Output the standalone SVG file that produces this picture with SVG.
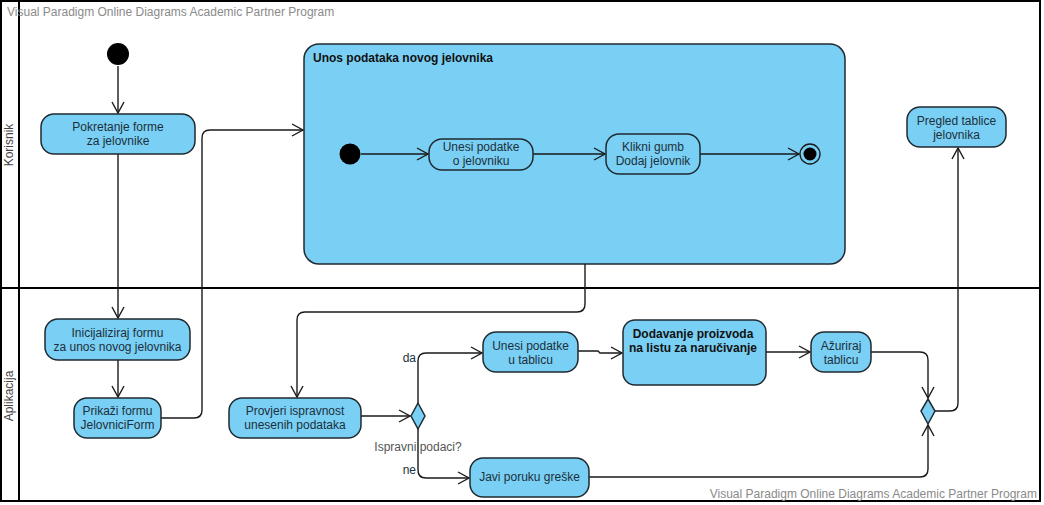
<svg xmlns="http://www.w3.org/2000/svg" width="1044" height="505" viewBox="0 0 1044 505">
<style>
text{font-family:"Liberation Sans",Arial,sans-serif;font-size:12px;fill:#1c2f3b}
.node{fill:#7acff4;stroke:#1f2a30;stroke-width:1.5}
.c{text-anchor:middle}
.b{font-weight:bold;fill:#111}
.wm{fill:#8a8a8a}
.lane{fill:#444}
.edge{fill:none;stroke:#1a1a1a;stroke-width:1.4}
.frame{fill:none;stroke:#000;stroke-width:2}
</style>
<defs>
<marker id="arr" markerUnits="userSpaceOnUse" markerWidth="14" markerHeight="14" viewBox="0 0 12 14" refX="11" refY="7" orient="auto">
<path d="M0,1 L11,7 L0,13" fill="none" stroke="#1a1a1a" stroke-width="1.4"/>
</marker>
</defs>
<rect width="1044" height="505" fill="#fff"/>
<g id="swimlanes">
<rect class="frame" x="1" y="1" width="1039" height="500"/>
<line class="frame" x1="19" y1="1" x2="19" y2="501"/>
<line class="frame" x1="1" y1="288" x2="1040" y2="288"/>
<text class="lane c" transform="translate(13,145) rotate(-90)">Korisnik</text>
<text class="lane c" transform="translate(13,396) rotate(-90)">Aplikacija</text>
</g>
<g id="watermarks">
<text class="wm" x="7" y="16">Visual Paradigm Online Diagrams Academic Partner Program</text>
<text class="wm" x="1037" y="498" text-anchor="end">Visual Paradigm Online Diagrams Academic Partner Program</text>
</g>
<g id="composite">
<rect class="node" x="304" y="44" width="541" height="220" rx="15"/>
<text class="b" x="313" y="62">Unos podataka novog jelovnika</text>
</g>
<g id="connectors">
<path class="edge" d="M118,66 V113" marker-end="url(#arr)"/>
<path class="edge" d="M118,154 V318" marker-end="url(#arr)"/>
<path class="edge" d="M118,360 V397" marker-end="url(#arr)"/>
<path class="edge" d="M161,418 H194 Q202,418 202,410 V138 Q202,130 210,130 H303" marker-end="url(#arr)"/>
<path class="edge" d="M361,154 H428" marker-end="url(#arr)"/>
<path class="edge" d="M533,154 H605" marker-end="url(#arr)"/>
<path class="edge" d="M700,154 H799" marker-end="url(#arr)"/>
<path class="edge" d="M585,264 V304 Q585,312 577,312 H305 Q297,312 297,320 V397" marker-end="url(#arr)"/>
<path class="edge" d="M361,416 H410" marker-end="url(#arr)"/>
<path class="edge" d="M418,403 V361 Q418,353 426,353 H482" marker-end="url(#arr)"/>
<path class="edge" d="M418,429 V470 Q418,478 426,478 H469" marker-end="url(#arr)"/>
<path class="edge" d="M578,351 H598 L600,353 H622" marker-end="url(#arr)"/>
<path class="edge" d="M766,352 H810" marker-end="url(#arr)"/>
<path class="edge" d="M871,352 H920 Q928,352 928,360 V398" marker-end="url(#arr)"/>
<path class="edge" d="M589,477 H920 Q928,477 928,469 V425" marker-end="url(#arr)"/>
<path class="edge" d="M935,411 H950 Q958,411 958,403 V148" marker-end="url(#arr)"/>
</g>
<g id="start">
<circle cx="118" cy="54" r="11" fill="#000"/>
</g>
<g id="pokretanje">
<rect class="node" x="41" y="114" width="154" height="40" rx="13"/>
<text class="c" x="118" y="131">Pokretanje forme</text>
<text class="c" x="118" y="145">za jelovnike</text>
</g>
<g id="inicijaliziraj">
<rect class="node" x="45" y="319" width="145" height="41" rx="13"/>
<text class="c" x="117.5" y="337">Inicijaliziraj formu</text>
<text class="c" x="117.5" y="351">za unos novog jelovnika</text>
</g>
<g id="prikazi">
<rect class="node" x="74" y="398" width="87" height="40" rx="13"/>
<text class="c" x="117.5" y="415">Prikaži formu</text>
<text class="c" x="117.5" y="429">JelovniciForm</text>
</g>
<g id="inner-start">
<circle cx="350" cy="154" r="10.5" fill="#000"/>
</g>
<g id="unesi-jelovnik">
<rect class="node" x="429" y="139" width="104" height="31" rx="13"/>
<text class="c" x="481" y="151">Unesi podatke</text>
<text class="c" x="481" y="165">o jelovniku</text>
</g>
<g id="klikni">
<rect class="node" x="606" y="134" width="94" height="40" rx="13"/>
<text class="c" x="653" y="151">Klikni gumb</text>
<text class="c" x="653" y="165">Dodaj jelovnik</text>
</g>
<g id="inner-end">
<circle cx="810" cy="154" r="10" fill="#7acff4" stroke="#1a1a1a" stroke-width="1.3"/>
<circle cx="810" cy="154" r="6.5" fill="#000"/>
</g>
<g id="provjeri">
<rect class="node" x="229" y="398" width="132" height="40" rx="13"/>
<text class="c" x="295" y="415">Provjeri ispravnost</text>
<text class="c" x="295" y="429">unesenih podataka</text>
</g>
<g id="decision">
<path class="node" d="M418,403 L425,416 L418,429 L411,416 Z"/>
<text class="c" x="418" y="451" fill="#555" style="fill:#555">Ispravni podaci?</text>
<text x="416" y="362" text-anchor="end">da</text>
<text x="416" y="474" text-anchor="end">ne</text>
</g>
<g id="unesi-tablicu">
<rect class="node" x="483" y="332" width="95" height="40" rx="13"/>
<text class="c" x="530.5" y="350">Unesi podatke</text>
<text class="c" x="530.5" y="364">u tablicu</text>
</g>
<g id="dodavanje">
<rect class="node" x="623" y="320" width="143" height="65" rx="12"/>
<text class="c b" x="693" y="338">Dodavanje proizvoda</text>
<text class="c b" x="693" y="352">na listu za naručivanje</text>
</g>
<g id="azuriraj">
<rect class="node" x="811" y="332" width="60" height="40" rx="13"/>
<text class="c" x="841" y="350">Ažuriraj</text>
<text class="c" x="841" y="364">tablicu</text>
</g>
<g id="javi">
<rect class="node" x="470" y="458" width="119" height="39" rx="13"/>
<text class="c" x="529.5" y="481">Javi poruku greške</text>
</g>
<g id="merge">
<path class="node" d="M928,399 L935,411 L928,424 L921,411 Z"/>
</g>
<g id="pregled">
<rect class="node" x="907" y="107" width="99" height="40" rx="13"/>
<text class="c" x="956.5" y="125">Pregled tablice</text>
<text class="c" x="956.5" y="139">jelovnika</text>
</g>
</svg>
